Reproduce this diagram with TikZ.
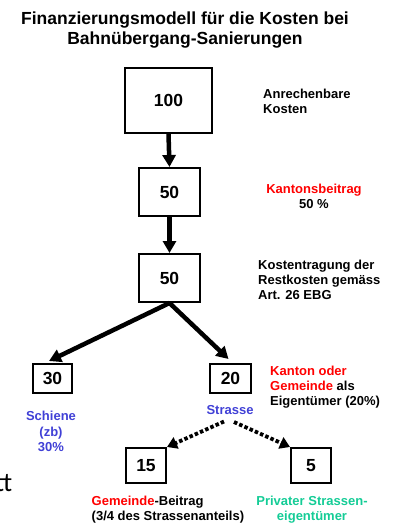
\documentclass[tikz,border=0pt]{standalone}
\usepackage{fontspec}
\setmainfont{Liberation Sans}
\newfontfamily\carl{Carlito}
\usetikzlibrary{arrows.meta}
\definecolor{myblue}{RGB}{64,64,214}
\definecolor{myteal}{RGB}{20,204,150}
\definecolor{myred}{RGB}{255,0,0}
\begin{document}
\begin{tikzpicture}[x=1pt,y=-1pt,
  numbox/.style={draw=black,line width=2pt,inner sep=0pt,font=\fontsize{17.5}{20}\selectfont\bfseries},
  lbl/.style={inner sep=0pt,font=\fontsize{13}{15.2}\selectfont\bfseries},
  bigarrow/.style={line width=4.5pt,-{Triangle[length=12pt,width=13pt]}},
  dotarrow/.style={line width=3.8pt,dash pattern=on 3.5pt off 2.2pt,-{Triangle[length=10pt,width=12pt]}}
]
\useasboundingbox (0,0) rectangle (400,523);
\clip (0,0) rectangle (400,523);
% title
\node[inner sep=0pt,font=\fontsize{17.5}{20.5}\selectfont\bfseries,align=center] (title) at (185,30) {Finanzierungsmodell für die Kosten bei\\Bahnübergang-Sanierungen};
% boxes
\node[numbox,minimum width=87pt,minimum height=65pt] (b100) at (168.5,100.5) {100};
\node[numbox,minimum width=61pt,minimum height=48pt] (b50a) at (169.5,192) {50};
\node[numbox,minimum width=61pt,minimum height=48pt] (b50b) at (169.5,278) {50};
\node[numbox,minimum width=39pt,minimum height=29pt] (b30) at (52.5,378.5) {30};
\node[numbox,minimum width=41pt,minimum height=29pt] (b20) at (230.5,378.5) {20};
\node[numbox,minimum width=40pt,minimum height=35pt] (b15) at (146,465.5) {15};
\node[numbox,minimum width=40pt,minimum height=35pt] (b5) at (311,465.5) {5};
% labels
\node[lbl,align=left,anchor=west] (l100) at (263,101.5) {Anrechenbare\\Kosten};
\node[lbl,align=center] (l50a) at (314,196) {\textcolor{myred}{Kantonsbeitrag}\\50 \%};
\node[lbl,align=left,anchor=west] (l50b) at (258,280) {Kostentragung der\\Restkosten gemäss\\Art. 26 EBG};
\node[lbl,align=left,anchor=west] (l20) at (270,387) {\textcolor{myred}{Kanton oder}\\\textcolor{myred}{Gemeinde} als\\Eigentümer (20\%)};
\node[lbl,align=center,text=myblue] (l30) at (51,431.5) {Schiene\\(zb)\\30\%};
\node[lbl,text=myblue] (lstr) at (230,410.5) {Strasse};
\node[lbl,align=left,anchor=west] (l15) at (91.5,510) {\textcolor{myred}{Gemeinde}-Beitrag\\(3/4 des Strassenanteils)};
\node[lbl,align=center,text=myteal] (l5) at (312,510) {Privater Strassen-\\eigentümer};
% stray fragment at left edge
\node[inner sep=0pt,anchor=base east,font=\carl\fontsize{27}{30}\selectfont] (frag) at (12.5,491) {tt};
% connectors
\coordinate (s1) at (224,421.5);
\coordinate (s2) at (234,422);
\coordinate (t30) at (49,361);
\coordinate (t20) at (228.5,359);
\draw[bigarrow] (b100.south) -- (b50a.north);
\draw[bigarrow] (b50a.south) -- (b50b.north);
\draw[bigarrow] (b50b.south) -- (t30);
\draw[bigarrow] (b50b.south) -- (t20);
\draw[dotarrow] (s1) -- (b15.north east);
\draw[dotarrow] (s2) -- (b5.north west);
\end{tikzpicture}
\end{document}
